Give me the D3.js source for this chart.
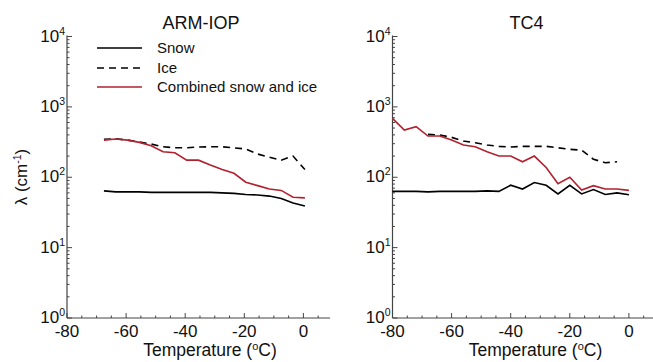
<!DOCTYPE html>
<html><head><meta charset="utf-8">
<script src="https://cdn.jsdelivr.net/npm/d3@7"></script>
<style>body{margin:0;background:#fff}svg{display:block}text{font-family:"Liberation Sans",Arial,sans-serif;fill:#111}</style>
</head><body><svg id="c" width="653" height="362"></svg>
<script>
// ARM-IOP panel
const armTemp = [-67.5,-63.5,-59.5,-55.5,-51.5,-47.5,-43.5,-39.5,-35.5,-31.5,-27.5,-23.5,-19.5,-15.5,-11.5,-7.5,-3.5,0.5];
const armSnow = [64,62,62,62,61,61,61,61,61,61,60,59,57,56,54,50,43,39];
const armIce = [345,352,337,316,296,271,262,262,269,271,271,262,252,214,192,175,200,129];
const armComb = [337,349,337,313,280,230,223,175,175,149,129,114,85,76,68,65,52,51];
// TC4 panel
const tcTemp = [-80,-76,-72,-68,-64,-60,-56,-52,-48,-44,-40,-36,-32,-28,-24,-20,-16,-12,-8,-4,0];
const tcSnow = [63,63,63,62,63,63,63,63,64,63,77,68,84,77,58,77,58,67,57,60,56.5];
const tcIceTemp = [-68,-64,-60,-56,-52,-48,-44,-40,-36,-32,-28,-24,-20,-16,-12,-8,-4];
const tcIce = [407,398,369,327,309,287,275,269,275,275,275,262,249,243,180,161,166];
const tcComb = [686,468,522,385,385,337,287,271,230,200,200,166,200,138,81,100,66,76,68,68,65];

const xTicks = [-80,-60,-40,-20,0];
const yTicks = [1,10,100,1000,10000];
const titles = ["ARM-IOP","TC4"];
const legendLabels = ["Snow","Ice","Combined snow and ice"];
const red = "#b3202e";

const svg = d3.select("#c");
const panels = [
  {x0:67, title:titles[0], snow:[armTemp,armSnow], ice:[armTemp,armIce], comb:[armTemp,armComb], legend:true},
  {x0:392.5, title:titles[1], snow:[tcTemp,tcSnow], ice:[tcIceTemp,tcIce], comb:[tcTemp,tcComb], legend:false}
];
const yTop = 36.5, yBot = 318;
const y = d3.scaleLog().domain([1,10000]).range([yBot,yTop]);

panels.forEach(p=>{
  const x = d3.scaleLinear().domain([-80,9]).range([p.x0,p.x0+263]);
  const g = svg.append("g");
  g.append("line").attr("x1",p.x0).attr("x2",p.x0).attr("y1",yTop-1).attr("y2",yBot).attr("stroke","#444").attr("stroke-width",1.2);
  g.append("line").attr("x1",p.x0).attr("x2",p.x0+263).attr("y1",yBot).attr("y2",yBot).attr("stroke","#444").attr("stroke-width",1.2);
  const minorX = d3.range(-80,9,5);
  minorX.forEach(t=>{
    const major = xTicks.includes(t);
    g.append("line").attr("x1",x(t)).attr("x2",x(t)).attr("y1",yBot).attr("y2",yBot-(major?5:2.5)).attr("stroke","#444");
  });
  xTicks.forEach(t=>{
    g.append("text").attr("x",x(t)).attr("y",337).attr("text-anchor","middle").attr("font-size",17).text(t);
  });
  for(let e=0;e<4;e++){
    for(let m=2;m<10;m++){
      const v=m*Math.pow(10,e);
      g.append("line").attr("x1",p.x0).attr("x2",p.x0+2.5).attr("y1",y(v)).attr("y2",y(v)).attr("stroke","#444");
    }
  }
  yTicks.forEach((t,i)=>{
    g.append("line").attr("x1",p.x0).attr("x2",p.x0+5).attr("y1",y(t)).attr("y2",y(t)).attr("stroke","#444");
    const tx = g.append("text").attr("x",p.x0-2).attr("y",y(t)+5).attr("text-anchor","end").attr("font-size",17);
    tx.append("tspan").text("10");
    tx.append("tspan").attr("font-size",10.5).attr("dy",-7).text(String(Math.log10(t)));
  });
  g.append("text").attr("x",p.x0+134).attr("y",29).attr("text-anchor","middle").attr("font-size",18).text(p.title);
  const xl = g.append("text").attr("x",p.x0+143).attr("y",356).attr("text-anchor","middle").attr("font-size",17.5);
  xl.append("tspan").text("Temperature (");
  xl.append("tspan").attr("font-size",11).attr("dy",-6).text("o");
  xl.append("tspan").attr("dy",6).text("C)");
  const line = d3.line().x(d=>x(d[0])).y(d=>y(d[1]));
  const pts = s=>s[0].map((t,i)=>[t,s[1][i]]);
  g.append("path").attr("d",line(pts(p.ice))).attr("fill","none").attr("stroke","#000").attr("stroke-width",1.6).attr("stroke-dasharray","7,5");
  g.append("path").attr("d",line(pts(p.snow))).attr("fill","none").attr("stroke","#000").attr("stroke-width",1.6);
  g.append("path").attr("d",line(pts(p.comb))).attr("fill","none").attr("stroke",red).attr("stroke-width",1.6);
  if(p.legend){
    const ly=[48,68,87];
    const st=[["#000",null],["#000","7,5"],[red,null]];
    legendLabels.forEach((l,i)=>{
      const ln=g.append("line").attr("x1",97).attr("x2",142).attr("y1",ly[i]).attr("y2",ly[i]).attr("stroke",st[i][0]).attr("stroke-width",1.6);
      if(st[i][1]) ln.attr("stroke-dasharray",st[i][1]);
      g.append("text").attr("x",157).attr("y",ly[i]+5).attr("font-size",15).text(l);
    });
  }
});
const yl = svg.append("text").attr("transform","translate(27,177) rotate(-90)").attr("text-anchor","middle").attr("font-size",17);
yl.append("tspan").text("λ (cm");
yl.append("tspan").attr("font-size",10.5).attr("dy",-6).text("-1");
yl.append("tspan").attr("dy",6).text(")");
</script></body></html>
